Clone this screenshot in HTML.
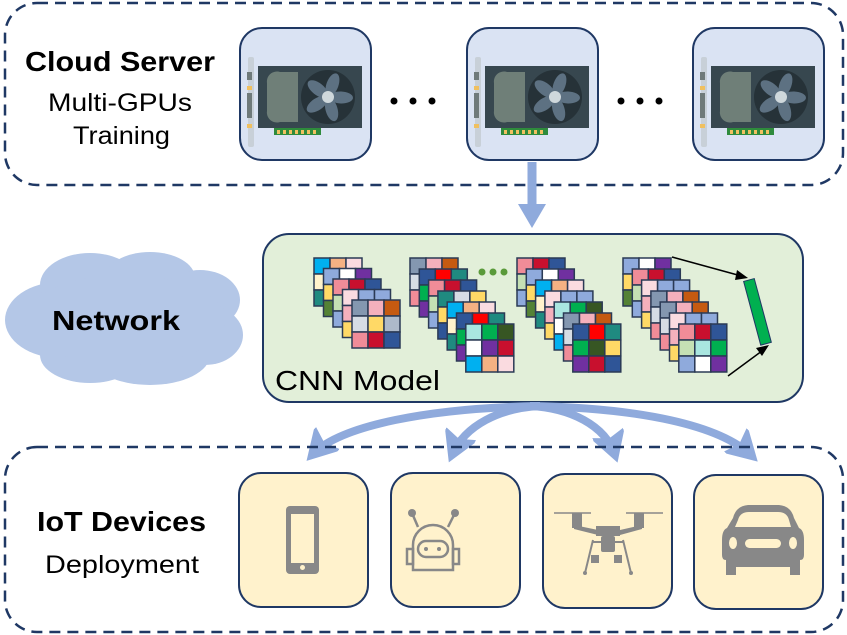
<!DOCTYPE html>
<html><head><meta charset="utf-8"><style>
html,body{margin:0;padding:0;background:#fff;}
svg{display:block;font-family:"Liberation Sans","DejaVu Sans",sans-serif;}
</style></head><body>
<svg id="s" width="847" height="635" viewBox="0 0 847 635" xmlns="http://www.w3.org/2000/svg">
<defs>
<marker id="ah" markerWidth="4" markerHeight="4" refX="3" refY="2" orient="auto" markerUnits="strokeWidth">
<path d="M0,-0.3 L4,2 L0,4.3 L0.8,2 z" fill="#8faadc"/>
</marker>
<g id="gpu">
<rect x="0" y="0" width="131" height="132" rx="22" fill="#dae3f3" stroke="#1f3864" stroke-width="2"/>
<rect x="8" y="29" width="6" height="90" rx="2" fill="#c8d0d8"/>
<rect x="7" y="44" width="5" height="8" fill="#6f7a7a"/>
<rect x="7" y="65" width="5" height="25" fill="#6f7a7a"/>
<rect x="7" y="58" width="5" height="4" fill="#f0c060"/>
<rect x="7" y="96" width="5" height="4" fill="#f0c060"/>
<rect x="18" y="38" width="104" height="62" fill="#37474f"/>
<path d="M58,44 L40,44 A10,10 0 0 0 27,55 L27,83 A10,10 0 0 0 40,94 L58,94 Z" fill="#6f7f78"/>
<circle cx="88" cy="69" r="27" fill="#263238"/>
<g fill="#5d7182">
<ellipse cx="88" cy="56" rx="6" ry="12" transform="rotate(20 88 69)"/>
<ellipse cx="88" cy="56" rx="6" ry="12" transform="rotate(92 88 69)"/>
<ellipse cx="88" cy="56" rx="6" ry="12" transform="rotate(164 88 69)"/>
<ellipse cx="88" cy="56" rx="6" ry="12" transform="rotate(236 88 69)"/>
<ellipse cx="88" cy="56" rx="6" ry="12" transform="rotate(308 88 69)"/>
</g>
<circle cx="88" cy="69" r="6" fill="#cfd8dc"/>
<rect x="34" y="100" width="47" height="7" fill="#2e8b3c"/>
<g fill="#f0c060"><rect x="37" y="102" width="3" height="4"/><rect x="43" y="102" width="3" height="4"/><rect x="49" y="102" width="3" height="4"/><rect x="55" y="102" width="3" height="4"/><rect x="61" y="102" width="3" height="4"/><rect x="67" y="102" width="3" height="4"/><rect x="73" y="102" width="3" height="4"/></g>
</g>
</defs>

<rect x="5" y="3" width="838" height="182" rx="32" fill="none" stroke="#1f3864" stroke-width="2.5" stroke-dasharray="11,7"/>
<text x="25" y="71" font-size="28" font-weight="bold" fill="#000" textLength="190" lengthAdjust="spacingAndGlyphs">Cloud Server</text>
<text x="48" y="111" font-size="25" fill="#000" textLength="144" lengthAdjust="spacingAndGlyphs">Multi-GPUs</text>
<text x="73" y="144" font-size="25" fill="#000" textLength="97" lengthAdjust="spacingAndGlyphs">Training</text>
<use href="#gpu" x="240" y="28"/>
<use href="#gpu" x="467" y="28"/>
<use href="#gpu" x="693" y="28"/>
<g fill="#000"><circle cx="394" cy="101" r="3.5"/><circle cx="413" cy="101" r="3.5"/><circle cx="432" cy="101" r="3.5"/>
<circle cx="621" cy="101" r="3.5"/><circle cx="640" cy="101" r="3.5"/><circle cx="659" cy="101" r="3.5"/></g>

<line x1="532" y1="162" x2="532" y2="206" stroke="#8faadc" stroke-width="9"/>
<path d="M518,204 L546,204 L532,228 Z" fill="#8faadc"/>

<g fill="#b4c7e7">
<ellipse cx="60" cy="320" rx="55" ry="38"/>
<ellipse cx="90" cy="285" rx="50" ry="32"/>
<ellipse cx="150" cy="278" rx="45" ry="26"/>
<ellipse cx="200" cy="300" rx="40" ry="30"/>
<ellipse cx="205" cy="335" rx="38" ry="30"/>
<ellipse cx="150" cy="355" rx="60" ry="30"/>
<ellipse cx="90" cy="355" rx="50" ry="28"/>
<ellipse cx="125" cy="320" rx="100" ry="45"/>
</g>
<text x="52" y="330" font-size="28" font-weight="bold" fill="#000" textLength="128" lengthAdjust="spacingAndGlyphs">Network</text>

<rect x="263" y="234" width="540" height="168" rx="26" fill="#e2efd9" stroke="#1f3864" stroke-width="2"/>
<g id="cnn"></g>
<text x="275" y="390" font-size="28" fill="#000" textLength="165" lengthAdjust="spacingAndGlyphs">CNN Model</text>
<g fill="#5a9a3a"><circle cx="482" cy="272" r="3.5"/><circle cx="493" cy="272" r="3.5"/><circle cx="504" cy="272" r="3.5"/></g>
<line x1="672" y1="257" x2="745" y2="277" stroke="#000" stroke-width="1.5"/>
<path d="M748,278 L737,270 L735,280 Z" fill="#000"/>
<line x1="728" y1="376" x2="766" y2="348" stroke="#000" stroke-width="1.5"/>
<path d="M769,345 L756,348 L762,356 Z" fill="#000"/>
<rect x="752" y="279" width="11" height="66" fill="#00b050" stroke="#1f3864" stroke-width="1" transform="rotate(-15 757 312)"/>

<g fill="none" stroke="#8faadc" stroke-width="8">
<path d="M540,406 C430,408 340,425 312,455" marker-end="url(#ah)"/>
<path d="M540,406 C500,408 465,425 452,455" marker-end="url(#ah)"/>
<path d="M530,406 C570,408 605,425 615,455" marker-end="url(#ah)"/>
<path d="M530,406 C640,408 720,425 752,456" marker-end="url(#ah)"/>
</g>

<rect x="5" y="447" width="838" height="185" rx="32" fill="none" stroke="#1f3864" stroke-width="2.5" stroke-dasharray="11,7"/>
<text x="37" y="531" font-size="28" font-weight="bold" fill="#000" textLength="169" lengthAdjust="spacingAndGlyphs">IoT Devices</text>
<text x="45" y="573" font-size="25" fill="#000" textLength="154" lengthAdjust="spacingAndGlyphs">Deployment</text>

<g fill="#fff2cc" stroke="#1f3864" stroke-width="2">
<rect x="239" y="473" width="129" height="134" rx="22"/>
<rect x="391" y="473" width="129" height="134" rx="22"/>
<rect x="543" y="474" width="129" height="134" rx="22"/>
<rect x="694" y="475" width="129" height="134" rx="22"/>
</g>
<g transform="translate(7,0)">
<rect x="279" y="506" width="33" height="68" rx="4" fill="#888"/>
<rect x="284" y="514" width="23" height="49" fill="#fff2cc"/>
<circle cx="295.5" cy="567.5" r="2.5" fill="#fff2cc"/>
</g>
<g transform="translate(7,0)">
<g stroke="#888" stroke-width="2.5" fill="none">
<line x1="405" y1="513" x2="411" y2="527"/><line x1="448" y1="513" x2="441" y2="527"/>
<path d="M406,570 L406,545 A20,20 0 0 1 446,545 L446,570 Z"/>
<rect x="411" y="541" width="30" height="16" rx="8"/>
<rect x="400" y="549" width="6" height="15"/><rect x="446" y="549" width="6" height="15"/>
</g>
<g fill="#888"><circle cx="405" cy="513" r="4"/><circle cx="448" cy="513" r="4"/><circle cx="419" cy="549" r="2"/><circle cx="432" cy="549" r="2"/></g>
</g>
<g transform="translate(8,0)">
<g fill="#888" stroke="#888">
<line x1="546" y1="513" x2="583" y2="513" stroke-width="1.5"/><line x1="618" y1="513" x2="655" y2="513" stroke-width="1.5"/>
<rect x="564" y="513" width="10" height="15" stroke="none"/><rect x="626" y="513" width="10" height="15" stroke="none"/>
<path d="M566,525 L590,530 L612,530 L634,525 L634,529 L612,535 L590,535 L566,529 Z" stroke="none"/>
<rect x="588" y="526" width="24" height="10" stroke="none"/>
<rect x="593" y="536" width="14" height="16" rx="2" stroke="none"/>
<line x1="585" y1="540" x2="577" y2="573" stroke-width="2"/><line x1="615" y1="540" x2="623" y2="573" stroke-width="2"/>
<line x1="585" y1="542" x2="615" y2="542" stroke-width="2"/>
<rect x="583" y="555" width="8" height="8" stroke="none"/>
<rect x="606" y="555" width="8" height="8" stroke="none"/>
<circle cx="577" cy="573" r="2" stroke="none"/><circle cx="623" cy="573" r="2" stroke="none"/>
</g>
</g>
<g transform="translate(3,0)">
<path d="M730,518 Q733,506 745,505 L776,505 Q788,506 791,518 L796,528 Q801,530 801,540 L801,555 Q801,560 797,560 L797,575 L787,575 L787,567 L733,567 L733,575 L723,575 L723,560 Q719,560 719,555 L719,540 Q719,530 724,528 Z" fill="#888"/>
<path d="M735,520 Q737,512 746,512 L775,512 Q784,512 786,520 L788,527 L732,527 Z" fill="#fff2cc"/>
<ellipse cx="730" cy="543" rx="4" ry="6" fill="#fff2cc"/><ellipse cx="790" cy="543" rx="4" ry="6" fill="#fff2cc"/>
<rect x="742" y="539" width="36" height="9" rx="4.5" fill="#fff2cc"/>
</g>
</svg>
<script>
(function(){
var ns="http://www.w3.org/2000/svg",g=document.getElementById("cnn");
var pal=["#1f8a80","#c8102e","#8497b0","#ffd966","#fadbe0","#d6dce4","#2f5597","#f4b0bc","#f08c98","#8faadc","#ffd966","#c5e0b4","#c55a11","#c8102e","#8faadc","#adb9ca","#a9e6e0","#ffd966","#2f5597","#ffffff","#548235","#00b050","#00b0f0","#ff0000","#7030a0","#fff2cc","#375623","#f4b183"];
function grid(x,y,c,seed){
for(var r=0;r<3;r++)for(var k=0;k<3;k++){
var e=document.createElementNS(ns,"rect");
e.setAttribute("x",x+k*c);e.setAttribute("y",y+r*c);e.setAttribute("width",c);e.setAttribute("height",c);
e.setAttribute("fill",pal[(seed*7+r*3+k*5+seed*seed)%pal.length]);
e.setAttribute("stroke","#2b3a55");e.setAttribute("stroke-width","1.5");g.appendChild(e);}
}
function stack(x,y,n,dx,dy,c){for(var i=0;i<n;i++)grid(x+i*dx,y+i*dy,c,i+Math.round(x));}
stack(314,258,5,9.5,10.5,16);
stack(410,258,7,9.3,11,16);
stack(517,258,7,9.3,11,16);
stack(623,258,7,9.3,11,16);
})();
</script>
</body></html>
